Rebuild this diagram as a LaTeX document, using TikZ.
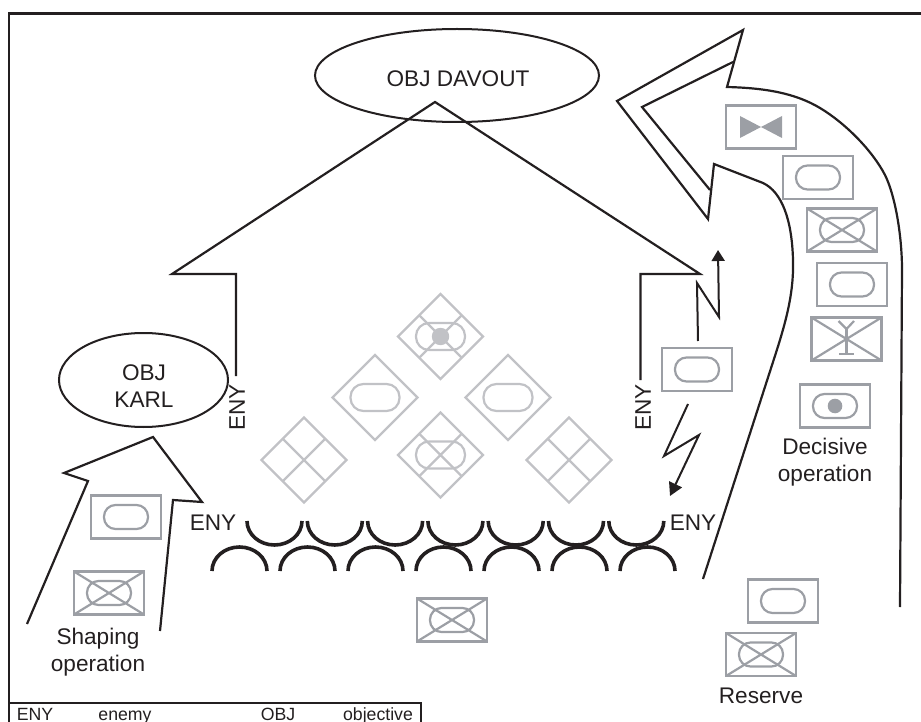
\documentclass[tikz,border=0pt]{standalone}
\usepackage{fontspec}
\setmainfont{Liberation Sans}
\usetikzlibrary{arrows.meta,shapes.geometric}

\definecolor{inkblack}{HTML}{231F20}
\definecolor{unitgray}{HTML}{9C9FA5}
\definecolor{lightgray}{HTML}{C1C2C6}

\tikzset{
	opline/.style={draw=inkblack, line width=2.2, line join=miter},
	boltline/.style={draw=inkblack, line width=2},
	arcline/.style={draw=inkblack, line width=3.6},
	objective/.style={ellipse, draw=inkblack, line width=2, inner sep=0pt},
	txt/.style={text=inkblack, font=\fontsize{22.6}{27}\selectfont, align=center, inner sep=0pt},
	legendtxt/.style={text=inkblack, font=\fontsize{17.7}{20}\selectfont, anchor=base, inner sep=0pt},
	unitline/.style={draw=unitgray, line width=2.2},
	ghostline/.style={draw=lightgray, line width=2.2},
	% unit frames and their marks
	unitbox/.pic={\draw[unitline] (-35,-21.5) rectangle (35,21.5);},
	xbox/.pic={
		\draw[unitline] (-35,-21.5) rectangle (35,21.5);
		\draw[unitline] (-35,-21.5) -- (35,21.5) (-35,21.5) -- (35,-21.5);
	},
	pill/.pic={\draw[unitline, rounded corners=11.5] (-22,-12) rectangle (22,12);},
	ghostdiamond/.pic={
		\draw[ghostline] (-42.5,0) -- (0,-42.5) -- (42.5,0) -- (0,42.5) -- cycle;
	},
	ghostpill/.pic={\draw[ghostline, rounded corners=13] (-24.5,-13.5) rectangle (24.5,13.5);},
	ghostx/.pic={
		\draw[ghostline] (-21.2,-21.2) -- (21.2,21.2) (-21.2,21.2) -- (21.2,-21.2);
	}
}

\begin{document}
\begin{tikzpicture}[x=1pt, y=-1pt]
	\useasboundingbox (0,0) rectangle (921,722);

	% Frame and legend box
	\draw[draw=inkblack, line width=2.2] (9,722) -- (9,13.5) -- (921,13.5);
	\draw[draw=inkblack, line width=2.2] (9,703) -- (421,703) -- (421,722);
	\node[legendtxt] (legendeny) at (35,720.5) {ENY};
	\node[legendtxt] (legendenemy) at (125,720.5) {enemy};
	\node[legendtxt] (legendobj) at (278,720.5) {OBJ};
	\node[legendtxt] (legendobjective) at (378,720.5) {objective};

	% Objectives
	\node[objective, minimum width=284, minimum height=93] (davout) at (457,75.5) {};
	\node[txt] (davouttxt) at (458,79) {OBJ DAVOUT};
	\node[objective, minimum width=169, minimum height=94] (karl) at (143.5,380) {};
	\node[txt] (karltxt) at (144,386.5) {OBJ\\KARL};

	% Main attack arrow
	\draw[opline] (236,376) -- (236,274) -- (172,274) -- (435,102) -- (700,274) -- (640.5,274) -- (640.5,380);
	\node[txt, rotate=90] (enyleft) at (237,407.5) {ENY};
	\node[txt, rotate=90] (enyright) at (643,407.5) {ENY};

	% Shaping arrow
	\draw[opline] (27,624) -- (88,481) -- (64,473) -- (153,437) -- (202,502) -- (173,500) -- (160,631);

	% Decisive arrow
	\draw[opline] (703,579) -- (773,362) .. controls (785,325) and (794,295) .. (793,260)
		.. controls (792,220) and (782,192) .. (763,183) -- (714,164) -- (708,219)
		-- (617,101) -- (743,30) -- (727,87)
		.. controls (765,88) and (795,93) .. (820,108)
		.. controls (845,123) and (872,150) .. (885,175)
		.. controls (895,195) and (902,235) .. (902,270) -- (900,607);
	\draw[opline] (710,190) -- (642,107) -- (733,62);

	% Lightning bolts
	\draw[boltline, -{Triangle[length=11,width=13]}] (698,341) -- (697,283) -- (719,317) -- (718,250);
	\draw[boltline, -{Triangle[length=13,width=14]}] (688,404) -- (664,456) -- (699,435) -- (670,496);

	% Obstacle arcs
	\foreach \i in {0,...,6} {
			\draw[arcline] ({247+60.3*\i},521) arc[start angle=180, end angle=0, x radius=27.5, y radius=24];
			\draw[arcline] ({212+68*\i},571) arc[start angle=180, end angle=360, x radius=27.5, y radius=24];
		}
	\node[txt] (enyarcleft) at (213,523) {ENY};
	\node[txt] (enyarcright) at (693,523) {ENY};

	% Plain units
	\foreach \p in {(818,177.5), (852,284.5), (697,369.5), (783,601), (126,517)} {
			\pic at \p {unitbox};
			\pic at \p {pill};
		}

	% Crossed units
	\foreach \p in {(842,230), (761,654.5), (109,593), (452,620)} {
			\pic at \p {xbox};
			\pic at \p {pill};
		}

	% Bowtie unit
	\pic at (761,127) {unitbox};
	\fill[unitgray] (740,116) -- (740,138) -- (782,116) -- (782,138) -- cycle;

	% Antenna unit
	\pic at (846.5,339) {xbox};
	\draw[unitline] (846.5,329) -- (846.5,354) (839,354) -- (854,354);
	\draw[unitline] (838.5,321) -- (846.5,329) -- (854,321);

	% Unit with dot
	\pic at (835,406) {unitbox};
	\pic at (835,406) {pill};
	\fill[unitgray] (835,406) circle (7.3);

	% Ghost units in diamonds
	\foreach \p in {(375,397.5), (508,397.5)} {
			\pic at \p {ghostdiamond};
			\pic at \p {ghostpill};
		}
	\foreach \p in {(440.5,336.5), (440.5,455)} {
			\pic at \p {ghostdiamond};
			\pic at \p {ghostpill};
			\pic at \p {ghostx};
		}
	\foreach \p in {(304,460), (569,460)} {
			\pic at \p {ghostdiamond};
			\pic at \p {ghostx};
		}
	\fill[lightgray] (440.5,336.5) circle (8.7);

	% Operation labels
	\node[txt] (shapingtxt) at (98,652.5) {Shaping\\operation};
	\node[txt] (decisivetxt) at (825,462.5) {Decisive\\operation};
	\node[txt] (reservetxt) at (761,696) {Reserve};
\end{tikzpicture}
\end{document}
